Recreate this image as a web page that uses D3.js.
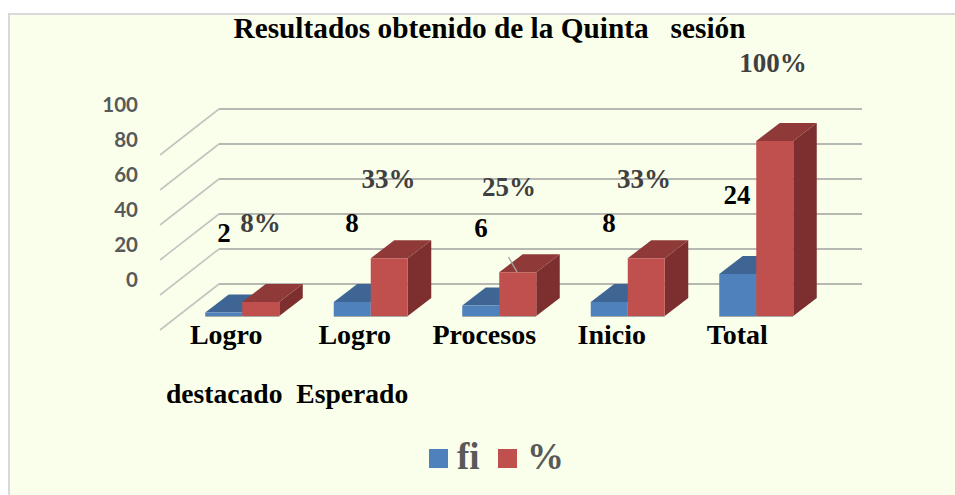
<!DOCTYPE html>
<html><head><meta charset="utf-8">
<script src="https://cdn.jsdelivr.net/npm/d3@7"></script>
<style>html,body{margin:0;padding:0;background:#fff}svg{display:block}</style>
</head><body><svg id="c" width="955" height="495"></svg>
<script>
const title = "Resultados obtenido de la Quinta\u00A0\u00A0 sesión";
const categories = ["Logro destacado", "Logro Esperado", "Procesos", "Inicio", "Total"];
const axisLabels = ["Logro", "Logro", "Procesos", "Inicio", "Total"];
const axisLabelSecondRow = "destacado\u00A0 Esperado";
const seriesNames = ["fi", "%"];
const fiValues = [2, 8, 6, 8, 24];
const pctValues = [8, 33, 25, 33, 100];
const pctLabels = ["8%", "33%", "25%", "33%", "100%"];
const yTicks = [0, 20, 40, 60, 80, 100];

// layout only
const serif = "'Liberation Serif','Times New Roman',serif";
const fiLabelPos = [[224, 242], [352, 232], [481, 237], [609, 232], [737, 204]];
const pctLabelPos = [[260.5, 232], [388.5, 188], [509, 196], [644, 188], [773, 72]];
const colors = {
  fi: {front: "#4F81BD", top: "#3E6594", side: "#3A5F8C"},
  "%": {front: "#C0504D", top: "#8F3A38", side: "#7C2F2E"}
};
const depth = {x: 23.5, y: 18};
const wall = {x: 59, y: 46};

const svg = d3.select("#c");
svg.append("rect").attr("x", 9).attr("y", 14).attr("width", 950).attr("height", 485)
  .attr("fill", "#FAFFEB").attr("stroke", "#D9D9D9").attr("stroke-width", 2);

const x0 = d3.scaleBand().domain(categories).range([178, 820.5]);
const x1 = d3.scaleBand().domain(seriesNames).range([27.25, 101.25]);
const y = d3.scaleLinear().domain([0, 100]).range([316, 141]);
const yWall = d3.scaleLinear().domain([0, 100]).range([284, 109]);
const gridRight = 862, gridLeft = 219;

// gridlines
const grid = svg.append("g");
yTicks.forEach(t => {
  const yy = yWall(t);
  grid.append("path")
    .attr("d", d3.line()([[gridLeft - wall.x, yy + wall.y], [gridLeft, yy]]))
    .attr("fill", "none").attr("stroke", "#C4C4C0").attr("stroke-width", 1.6);
  grid.append("path")
    .attr("d", d3.line()([[gridLeft, yy], [gridRight, yy]]))
    .attr("fill", "none").attr("stroke", "#B8B8B3").attr("stroke-width", 2);
});

// y tick labels
svg.append("g").selectAll("text").data(yTicks).join("text")
  .attr("x", 138).attr("y", d => yWall(d) + 3)
  .attr("text-anchor", "end")
  .attr("font-family", "Lato, sans-serif").attr("font-weight", 700).attr("font-size", 20.5)
  .attr("fill", "#595959").text(d => d);

// 3D bars
const series = [
  {name: "fi", values: fiValues},
  {name: "%", values: pctValues}
];
series.forEach(s => {
  const c = colors[s.name];
  const g = svg.append("g");
  s.values.forEach((v, i) => {
    const left = x0(categories[i]) + x1(s.name);
    const right = left + x1.bandwidth();
    const top = y(v), base = y(0);
    g.append("path").attr("fill", c.side)
      .attr("d", d3.line()([[right, top], [right + depth.x, top - depth.y], [right + depth.x, base - depth.y], [right, base]]) + "Z");
    g.append("path").attr("fill", c.top)
      .attr("d", d3.line()([[left, top], [left + depth.x, top - depth.y], [right + depth.x, top - depth.y], [right, top]]) + "Z");
    g.append("rect").attr("x", left).attr("y", top).attr("width", right - left).attr("height", base - top)
      .attr("fill", c.front);
    g.append("line").attr("x1", left).attr("x2", right).attr("y1", base + .5).attr("y2", base + .5)
      .attr("stroke", "#A9A9A4").attr("stroke-width", 1);
  });
});

// leader line on Procesos
svg.append("line").attr("x1", 508.5).attr("y1", 257).attr("x2", 517).attr("y2", 272)
  .attr("stroke", "#A6A6A6").attr("stroke-width", 1.4);

// data labels
svg.append("g").selectAll("text").data(fiValues).join("text")
  .attr("x", (d, i) => fiLabelPos[i][0]).attr("y", (d, i) => fiLabelPos[i][1])
  .attr("text-anchor", "middle").attr("font-family", serif).attr("font-weight", 700)
  .attr("font-size", 27).attr("fill", "#000").text(d => d);
svg.append("g").selectAll("text").data(pctLabels).join("text")
  .attr("x", (d, i) => pctLabelPos[i][0]).attr("y", (d, i) => pctLabelPos[i][1])
  .attr("text-anchor", "middle").attr("font-family", serif).attr("font-weight", 700)
  .attr("font-size", 27).attr("fill", "#404040").text(d => d);

// category labels
svg.append("g").selectAll("text").data(axisLabels).join("text")
  .attr("x", (d, i) => x0(categories[i]) + x0.bandwidth() / 2 - 16 - (i === 4 ? 3 : 0) + (i === 2 ? 1 : 0))
  .attr("y", 344)
  .attr("text-anchor", "middle").attr("font-family", serif).attr("font-weight", 700)
  .attr("font-size", 28).attr("fill", "#000").text(d => d);
svg.append("text").attr("x", 166).attr("y", 403)
  .attr("font-family", serif).attr("font-weight", 700).attr("font-size", 27.6)
  .attr("fill", "#000").text(axisLabelSecondRow);

// title
svg.append("text").attr("x", 489.5).attr("y", 38).attr("text-anchor", "middle")
  .attr("font-family", serif).attr("font-weight", 700).attr("font-size", 29.3)
  .attr("fill", "#000").text(title);

// legend
const legendX = [429, 498], legendTextX = [457, 527];
seriesNames.forEach((n, i) => {
  svg.append("rect").attr("x", legendX[i]).attr("y", 449).attr("width", 19).attr("height", 19)
    .attr("fill", colors[n].front);
  svg.append("text").attr("x", legendTextX[i]).attr("y", 469)
    .attr("font-family", serif).attr("font-weight", 700).attr("font-size", 37)
    .attr("fill", "#595959").text(n);
});
</script></body></html>
